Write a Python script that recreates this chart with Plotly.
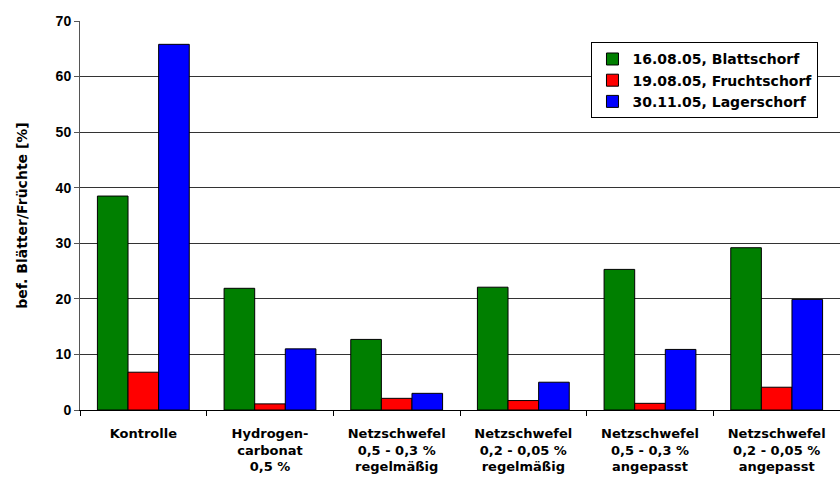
import plotly.graph_objects as go

categories = [
    "Kontrolle",
    "Hydrogen-<br>carbonat<br>0,5 %",
    "Netzschwefel<br>0,5 - 0,3 %<br>regelmäßig",
    "Netzschwefel<br>0,2 - 0,05 %<br>regelmäßig",
    "Netzschwefel<br>0,5 - 0,3 %<br>angepasst",
    "Netzschwefel<br>0,2 - 0,05 %<br>angepasst",
]
blattschorf = [38.5, 21.9, 12.7, 22.1, 25.3, 29.2]
fruchtschorf = [6.8, 1.1, 2.1, 1.7, 1.2, 4.1]
lagerschorf = [65.8, 11.0, 3.0, 5.0, 10.9, 19.9]

series_names = ["16.08.05, Blattschorf", "19.08.05, Fruchtschorf", "30.11.05, Lagerschorf"]
series_colors = ["#007F00", "#FF0000", "#0000FF"]

FONT = "Liberation Sans, Arial, sans-serif"
WIDE = "DejaVu Sans, Liberation Sans, sans-serif"

fig = go.Figure()
for name, vals, col in zip(series_names, [blattschorf, fruchtschorf, lagerschorf], series_colors):
    fig.add_trace(go.Bar(
        x=list(range(len(categories))), y=vals, name=name,
        marker=dict(color=col, line=dict(color="#000000", width=1)),
    ))

fig.update_layout(
    width=840, height=478,
    margin=dict(l=80, r=0, t=21, b=68),
    paper_bgcolor="white", plot_bgcolor="white",
    barmode="group", bargap=0.275, bargroupgap=0,
    font=dict(family=FONT, size=12, color="black"),
    legend=dict(
        x=0.673, y=0.945, xanchor="left", yanchor="top",
        bgcolor="white", bordercolor="black", borderwidth=1,
        font=dict(family=WIDE, size=14, color="black", weight="bold"),
        itemwidth=30, tracegroupgap=0,
    ),
    showlegend=True,
)

fig.update_xaxes(
    tickmode="array", tickvals=list(range(len(categories))), ticktext=categories,
    range=[-0.5, len(categories) - 0.5],
    showline=True, linecolor="black", linewidth=1,
    ticks="", showgrid=False, ticklabelstandoff=11,
    tickfont=dict(family=WIDE, size=13, color="black", weight="bold"),
)
# category separators on the x axis
fig.update_xaxes(minor=dict(tickvals=[i - 0.5 for i in range(len(categories) + 1)],
                            ticks="outside", ticklen=5, tickcolor="black", showgrid=False))

fig.update_yaxes(
    range=[0, 70], dtick=10,
    showline=True, linecolor="#555555", linewidth=1,
    ticks="outside", ticklen=5, tickcolor="#555555",
    showgrid=True, gridcolor="#333333", gridwidth=1,
    zeroline=False,
    tickfont=dict(family=FONT, size=14, color="black", weight="bold"),
    title=dict(text="bef. Blätter/Früchte [%]", standoff=24,
               font=dict(family=WIDE, size=14, color="black", weight="bold")),
)

fig.write_html("out.html")
